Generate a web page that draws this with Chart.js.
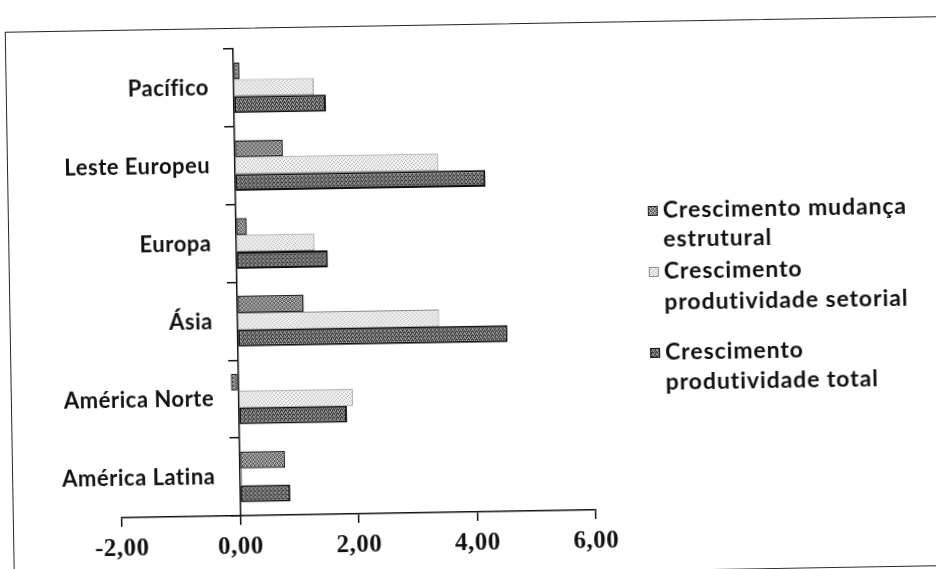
<!DOCTYPE html>
<html>
<head>
<meta charset="utf-8">
<script src="https://cdn.jsdelivr.net/npm/chart.js@4.4.1/dist/chart.umd.min.js"></script>
<style>
  html, body { margin: 0; padding: 0; background: #fff; overflow: hidden; }
  #page { position: relative; width: 936px; height: 569px; transform: rotate(-0.95deg); transform-origin: 468px 284.5px; }
  #frame { position: absolute; left: 9px; top: 24px; width: 940px; height: 550px; border: 1.5px solid #262626; box-sizing: border-box; }
  #wrap { position: absolute; left: 0; top: 0; width: 936px; height: 569px; }
</style>
</head>
<body>
<div id="page">
  <div id="frame"></div>
  <div id="wrap"><canvas id="c" width="936" height="569"></canvas></div>
</div>
<script>
// Regions (top to bottom) and the three growth components, in % a.a.
const regions = ['Pacífico', 'Leste Europeu', 'Europa', 'Ásia', 'América Norte', 'América Latina'];
const seriesNames = [
  ['Crescimento mudança', 'estrutural'],
  ['Crescimento', 'produtividade setorial'],
  ['Crescimento', 'produtividade total']
];
const mudancaEstrutural     = [0.11, 0.82, 0.19, 1.13, -0.12, 0.77];
const produtividadeSetorial = [1.36, 3.44, 1.33, 3.41, 1.93, 0.04];
const produtividadeTotal    = [1.56, 4.23, 1.55, 4.56, 1.83, 0.85];
const xTickValues = [-2, 0, 2, 4, 6];

// Speckled fills that imitate the printed hatching
function speckle(dark, light, cells) {
  const rows = cells.split(' ');
  const cv = document.createElement('canvas');
  cv.width = rows[0].length; cv.height = rows.length;
  const g = cv.getContext('2d');
  rows.forEach((row, y) => {
    [...row].forEach((ch, x) => {
      g.fillStyle = ch === '1' ? dark : light;
      g.fillRect(x, y, 1, 1);
    });
  });
  return g.createPattern(cv, 'repeat');
}

const ctx = document.getElementById('c').getContext('2d');
const fills = [
  speckle('#4a4a4a', '#c4c4c4', '1010 0101 1001 0110'),
  speckle('#b4b4b4', '#f3f3f3', '1000 0010 0100 0001'),
  speckle('#3c3c3c', '#a2a2a2', '1010 0110 0101 1011')
];
const borders = ['#222222', '#8a8a8a', '#111111'];
const borderWidths = [1.5, 1, 2];

// Slightly open letter spacing for every label on the canvas
const spacing = {
  id: 'spacing',
  beforeDraw(chart) { chart.ctx.letterSpacing = '0.5px'; }
};

// Legend drawn on the right, two lines per entry
const legendBox = { x: 649, size: 10, textX: 664, rows: [[214, 243], [275, 306], [356, 386]] };
const sideLegend = {
  id: 'sideLegend',
  afterDraw(chart) {
    const c = chart.ctx;
    c.save();
    c.font = 'bold 23px Lato';
    c.letterSpacing = '0.9px';
    c.textBaseline = 'middle';
    c.textAlign = 'left';
    chart.data.datasets.forEach((ds, i) => {
      const [y1, y2] = legendBox.rows[i];
      c.fillStyle = ds.backgroundColor;
      c.fillRect(legendBox.x, y1 - legendBox.size / 2, legendBox.size, legendBox.size);
      c.strokeStyle = ds.borderColor;
      c.lineWidth = 1;
      c.strokeRect(legendBox.x + 0.5, y1 - legendBox.size / 2 + 0.5, legendBox.size - 1, legendBox.size - 1);
      c.fillStyle = '#111';
      c.fillText(seriesNames[i][0], legendBox.textX, y1);
      c.fillText(seriesNames[i][1], legendBox.textX, y2);
    });
    c.restore();
  }
};

const fmt = v => Number(v).toFixed(2).replace('.', ',');

function build() {
  new Chart(ctx, {
    type: 'bar',
    data: {
      labels: regions,
      datasets: [mudancaEstrutural, produtividadeSetorial, produtividadeTotal].map((vals, i) => ({
        label: seriesNames[i].join(' '),
        data: vals,
        backgroundColor: fills[i],
        borderColor: borders[i],
        borderWidth: borderWidths[i],
        borderSkipped: false,
        categoryPercentage: 0.65,
        barPercentage: 1.0,
        xAxisID: 'x',
        yAxisID: 'y'
      }))
    },
    options: {
      indexAxis: 'y',
      responsive: false,
      animation: false,
      devicePixelRatio: 1,
      layout: { padding: { left: 118, right: 344, top: 45, bottom: 2 } },
      plugins: { legend: { display: false }, tooltip: { enabled: false } },
      scales: {
        x: {
          type: 'linear', min: -2, max: 6,
          afterBuildTicks: s => { s.ticks = xTickValues.map(v => ({ value: v })); },
          grid: { display: true, drawOnChartArea: false, drawTicks: true, tickLength: 9, color: '#111', lineWidth: 1.5 },
          border: { display: true, color: '#111', width: 1.5 },
          ticks: { padding: 8, color: '#111', font: { family: '"Liberation Serif"', size: 25, weight: 'bold' }, callback: v => fmt(v) }
        },
        y: {
          type: 'category', position: { x: 0 }, offset: true,
          grid: { display: true, offset: true, drawOnChartArea: false, drawTicks: true, tickLength: 9, color: '#111', lineWidth: 1.5 },
          border: { display: true, color: '#111', width: 1.5 },
          ticks: { display: false }
        },
        yl: {
          type: 'category', axis: 'y', position: { x: -0.41 }, offset: true,
          grid: { display: false, offset: true },
          border: { display: false },
          ticks: { padding: 0, color: '#111', font: { family: 'Lato', size: 22, weight: 'bold' } }
        }
      }
    },
    plugins: [spacing, sideLegend]
  });
}

Promise.all([
  document.fonts.load('bold 22px Lato'),
  document.fonts.load('bold 25px "Liberation Serif"')
]).then(build, build);
</script>
</body>
</html>
